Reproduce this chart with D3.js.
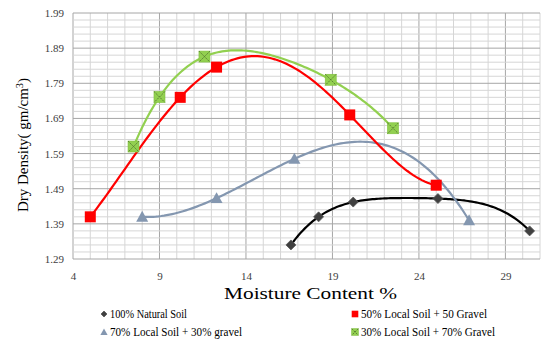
<!DOCTYPE html>
<html>
<head>
<meta charset="utf-8">
<script src="https://cdn.jsdelivr.net/npm/d3@7"></script>
<style>
  body { margin: 0; background: #fff; }
</style>
</head>
<body>
<div id="chart"></div>
<script>
// data
var natural = [[16.6, 1.33], [18.2, 1.41], [20.2, 1.452], [25.1, 1.462], [30.4, 1.37]];
var local50 = [[5.0, 1.41], [10.2, 1.75], [12.3, 1.836], [20.0, 1.70], [25.0, 1.50]];
var local70 = [[8.0, 1.41], [12.3, 1.463], [16.8, 1.575], [26.9, 1.40]];
var local30 = [[7.5, 1.61], [9.0, 1.751], [11.6, 1.866], [18.9, 1.80], [22.5, 1.662]];
var xTicks = [4, 9, 14, 19, 24, 29];
var yTicks = [1.29, 1.39, 1.49, 1.59, 1.69, 1.79, 1.89, 1.99];

var FONT = '"Liberation Serif"';
var width = 553, height = 341;
var margin = {top: 13, left: 73, right: 13, bottom: 82};

var svg = d3.select("#chart").append("svg")
    .attr("width", width).attr("height", height);

var x = d3.scaleLinear().domain([4, 31]).range([margin.left, width - margin.right]);
var y = d3.scaleLinear().domain([1.29, 1.99]).range([height - margin.bottom, margin.top]);

//grid
svg.append("g").selectAll("line")
  .data(d3.range(4, 31.01, 1))
  .enter().append("line")
  .attr("x1", function(d){ return x(d); }).attr("x2", function(d){ return x(d); })
  .attr("y1", y(1.29)).attr("y2", y(1.99))
  .attr("stroke", function(d){ return (d - 4) % 5 === 0 ? "#a6a6a6" : "#d6d6d6"; })
  .attr("stroke-width", 1);

svg.append("g").selectAll("line")
  .data(d3.range(0, 36))
  .enter().append("line")
  .attr("x1", x(4)).attr("x2", x(31))
  .attr("y1", function(i){ return y(1.29 + i * 0.02); })
  .attr("y2", function(i){ return y(1.29 + i * 0.02); })
  .attr("stroke", function(i){ return i % 5 === 0 ? "#a6a6a6" : "#d6d6d6"; })
  .attr("stroke-width", 1);

// axes
var xAxis = svg.append("g")
  .attr("transform", "translate(0," + y(1.29) + ")")
  .call(d3.axisBottom(x).tickValues(xTicks).tickSize(0).tickPadding(13));
var yAxis = svg.append("g")
  .attr("transform", "translate(" + x(4) + ",0)")
  .call(d3.axisLeft(y).tickValues(yTicks).tickSize(0).tickPadding(9)
    .tickFormat(d3.format(".2f")));
[xAxis, yAxis].forEach(function(a){
  a.attr("font-family", null).attr("font-size", null);
  a.select(".domain").remove();
  a.selectAll("text").style("font-size", "11px")
    .style("font-family", FONT).attr("fill", "#404040");
});

svg.append("text")
  .attr("x", 224).attr("y", 299)
  .attr("textLength", 173).attr("lengthAdjust", "spacingAndGlyphs")
  .style("font-family", FONT).style("font-size", "16px")
  .text("Moisture Content %");

svg.append("text")
  .attr("transform", "translate(28,145) rotate(-90)")
  .attr("text-anchor", "middle")
  .attr("textLength", 134).attr("lengthAdjust", "spacingAndGlyphs")
  .style("font-family", FONT).style("font-size", "14.5px")
  .html('Dry Density( gm/cm<tspan dy="-5" style="font-size:10px">3</tspan><tspan dy="5">)</tspan>');

// excel style polynomial trendline through each series
function poly(pts) {
  return function(t) {
    var s = 0;
    pts.forEach(function(pi, i){
      var l = pi[1];
      pts.forEach(function(pj, j){ if (j !== i) l *= (t - pj[0]) / (pi[0] - pj[0]); });
      s += l;
    });
    return s;
  };
}
function trend(pts) {
  var f = poly(pts);
  var x0 = pts[0][0], x1 = pts[pts.length - 1][0];
  return d3.range(0, 121).map(function(k){
    var t = x0 + (x1 - x0) * k / 120;
    return [t, f(t)];
  });
}

var line = d3.line()
  .x(function(d){ return x(d[0]); })
  .y(function(d){ return y(d[1]); });

var series = [
  {data: natural, color: "#000000", marker: "diamond"},
  {data: local70, color: "#8497b0", marker: "triangle"},
  {data: local50, color: "#ff0000", marker: "square"},
  {data: local30, color: "#92d050", marker: "xsquare"}
];

series.forEach(function(s){
  svg.append("path")
    .attr("d", line(trend(s.data)))
    .attr("fill", "none")
    .attr("stroke", s.color)
    .attr("stroke-width", 2.2);
});

function drawMarker(g, type, cx, cy, scale) {
  var k = scale || 1;
  if (type === "diamond") {
    var r = 5 * k;
    g.append("path")
      .attr("d", "M" + cx + "," + (cy - r) + "L" + (cx + r) + "," + cy + "L" + cx + "," + (cy + r) + "L" + (cx - r) + "," + cy + "Z")
      .attr("fill", "#404040").attr("stroke", "#595959").attr("stroke-width", 0.8);
  } else if (type === "triangle") {
    var h = 6 * k;
    g.append("path")
      .attr("d", "M" + cx + "," + (cy - h) + "L" + (cx + h) + "," + (cy + h * 0.8) + "L" + (cx - h) + "," + (cy + h * 0.8) + "Z")
      .attr("fill", "#8497b0");
  } else if (type === "square") {
    var a = 5.5 * k;
    g.append("rect")
      .attr("x", cx - a).attr("y", cy - a).attr("width", 2 * a).attr("height", 2 * a)
      .attr("fill", "#ff0000");
  } else {
    var b = 5.5 * k;
    g.append("rect")
      .attr("x", cx - b).attr("y", cy - b).attr("width", 2 * b).attr("height", 2 * b)
      .attr("fill", "#92d050").attr("stroke", "#7fbf3c").attr("stroke-width", 0.6);
    g.append("path")
      .attr("d", "M" + (cx - b) + "," + (cy - b) + "L" + (cx + b) + "," + (cy + b) + "M" + (cx + b) + "," + (cy - b) + "L" + (cx - b) + "," + (cy + b))
      .attr("stroke", "#4f6f2f").attr("stroke-width", 0.8).attr("stroke-dasharray", "2,1");
  }
}

series.forEach(function(s){
  var g = svg.append("g");
  s.data.forEach(function(d){ drawMarker(g, s.marker, x(d[0]), y(d[1])); });
});

// legend
var legend = [
  {label: "100% Natural Soil", marker: "diamond", lx: 104, ly: 314, w: 77},
  {label: "70% Local Soil + 30% gravel", marker: "triangle", lx: 104, ly: 332, w: 132},
  {label: "50% Local Soil + 50 Gravel", marker: "square", lx: 355, ly: 314, w: 126},
  {label: "30% Local Soil + 70% Gravel", marker: "xsquare", lx: 355, ly: 332, w: 134}
];
legend.forEach(function(l){
  var g = svg.append("g");
  drawMarker(g, l.marker, l.lx, l.ly, 0.6);
  g.append("text")
    .attr("x", l.lx + 6).attr("y", l.ly + 3.8)
    .attr("textLength", l.w).attr("lengthAdjust", "spacingAndGlyphs")
    .style("font-family", FONT).style("font-size", "11.5px")
    .text(l.label);
});
</script>
</body>
</html>
